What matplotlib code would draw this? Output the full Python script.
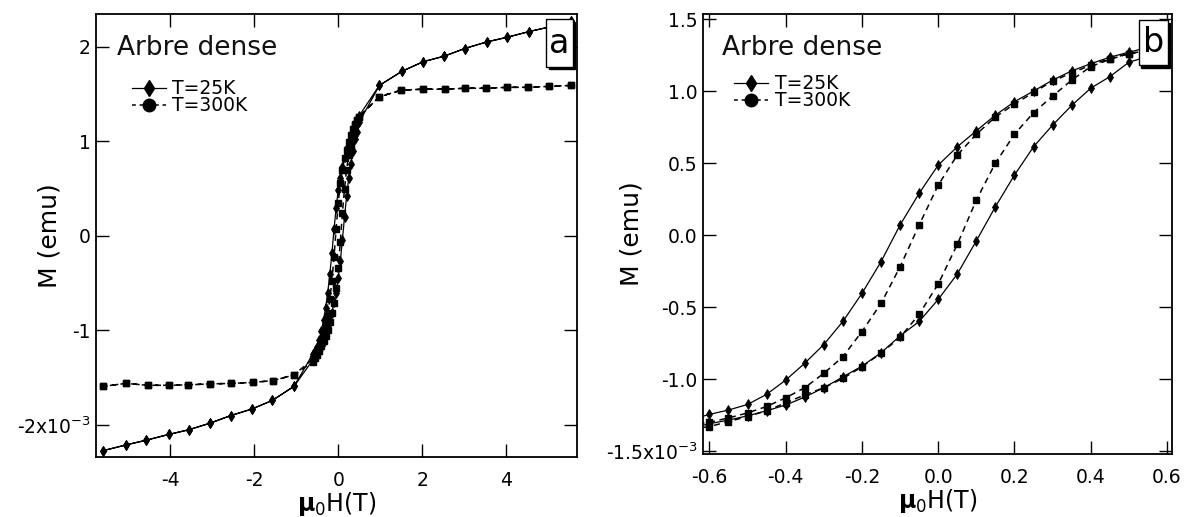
import matplotlib
matplotlib.use("Agg")
import matplotlib.pyplot as plt
from matplotlib.lines import Line2D
from matplotlib.patches import Rectangle

plt.rcParams['font.family'] = ['DejaVu Sans']
plt.rcParams['axes.unicode_minus'] = False
plt.rcParams['mathtext.default'] = 'regular'

# ---------------- data (M in units of 1e-3 emu, H in T) ----------------
# T = 25 K : high-field parts
h25_hi_pos = [0.98, 1.52, 2.02, 2.53, 3.01, 3.54, 4.03, 4.55, 5.05, 5.55]
m25_hi_pos = [1.59, 1.74, 1.84, 1.90, 1.98, 2.05, 2.10, 2.16, 2.21, 2.27]
h25_hi_neg = [-1.05, -1.57, -2.05, -2.56, -3.05, -3.56, -4.04, -4.57, -5.05, -5.59]
m25_hi_neg = [-1.59, -1.74, -1.83, -1.90, -1.98, -2.05, -2.10, -2.16, -2.21, -2.27]
# T = 25 K : low-field loop
h25_down = [0.50, 0.45, 0.40, 0.35, 0.30, 0.25, 0.20, 0.15, 0.10, 0.05, 0.00, -0.05,
            -0.10, -0.15, -0.20, -0.25, -0.30, -0.35, -0.40, -0.45, -0.50, -0.55, -0.60]
m25_down = [1.27, 1.235, 1.19, 1.14, 1.076, 1.00, 0.926, 0.833, 0.724, 0.613, 0.486, 0.29,
            0.07, -0.185, -0.405, -0.60, -0.76, -0.89, -1.007, -1.106, -1.176, -1.215, -1.245]
h25_up = [-0.60, -0.55, -0.50, -0.45, -0.40, -0.35, -0.30, -0.25, -0.20, -0.15, -0.10, -0.05,
          0.00, 0.05, 0.10, 0.15, 0.20, 0.25, 0.30, 0.35, 0.40, 0.45, 0.50]
m25_up = [-1.31, -1.285, -1.255, -1.22, -1.18, -1.125, -1.06, -0.985, -0.91, -0.817, -0.70, -0.60,
          -0.447, -0.27, -0.04, 0.197, 0.417, 0.613, 0.764, 0.90, 1.02, 1.10, 1.20]

# T = 300 K : high-field parts
h300_hi_pos = [0.98, 1.50, 2.02, 2.54, 3.01, 3.53, 4.03, 4.53, 5.02, 5.54]
m300_hi_pos = [1.47, 1.54, 1.55, 1.55, 1.56, 1.56, 1.57, 1.57, 1.58, 1.59]
h300_hi_neg = [-1.05, -1.55, -2.04, -2.55, -3.05, -3.57, -4.04, -4.54, -5.05, -5.59]
m300_hi_neg = [-1.47, -1.53, -1.55, -1.56, -1.565, -1.575, -1.58, -1.58, -1.56, -1.59]
# T = 300 K : low-field loop
h300_down = [0.50, 0.45, 0.40, 0.35, 0.30, 0.25, 0.20, 0.15, 0.10, 0.05, 0.00, -0.05,
             -0.10, -0.15, -0.20, -0.25, -0.30, -0.35, -0.40, -0.45, -0.50, -0.55, -0.60]
m300_down = [1.26, 1.225, 1.18, 1.125, 1.07, 0.99, 0.91, 0.82, 0.70, 0.556, 0.347, 0.07,
             -0.22, -0.475, -0.67, -0.845, -0.96, -1.06, -1.13, -1.19, -1.235, -1.27, -1.30]
h300_up = [-0.60, -0.55, -0.50, -0.45, -0.40, -0.35, -0.30, -0.25, -0.20, -0.15, -0.10, -0.05,
           0.00, 0.05, 0.10, 0.15, 0.20, 0.25, 0.30, 0.35, 0.40, 0.45, 0.50]
m300_up = [-1.33, -1.295, -1.26, -1.22, -1.165, -1.11, -1.06, -0.995, -0.915, -0.82, -0.71, -0.55,
           -0.34, -0.065, 0.243, 0.50, 0.70, 0.85, 0.965, 1.076, 1.17, 1.22, 1.26]

series_labels = ["T=25K", "T=300K"]

xticks_a = [-4, -2, 0, 2, 4]
xticklabels_a = ["-4", "-2", "0", "2", "4"]
yticks_a = [-2, -1, 0, 1, 2]
yticklabels_a = [r"-2x10$^{-3}$", "-1", "0", "1", "2"]

xticks_b = [-0.6, -0.4, -0.2, 0.0, 0.2, 0.4, 0.6]
xticklabels_b = ["-0.6", "-0.4", "-0.2", "0.0", "0.2", "0.4", "0.6"]
yticks_b = [-1.5, -1.0, -0.5, 0.0, 0.5, 1.0, 1.5]
yticklabels_b = [r"-1.5x10$^{-3}$", "-1.0", "-0.5", "0.0", "0.5", "1.0", "1.5"]


def full_loop(hp, mp, hd, md, hn, mn, hu, mu):
    h = list(reversed(hp)) + hd + hn + list(reversed(hn)) + hu + hp
    m = list(reversed(mp)) + md + mn + list(reversed(mn)) + mu + mp
    return h, m


H25, M25 = full_loop(h25_hi_pos, m25_hi_pos, h25_down, m25_down,
                     h25_hi_neg, m25_hi_neg, h25_up, m25_up)
H300, M300 = full_loop(h300_hi_pos, m300_hi_pos, h300_down, m300_down,
                       h300_hi_neg, m300_hi_neg, h300_up, m300_up)

fig = plt.figure(figsize=(11.88, 5.17), dpi=100)
axA = fig.add_axes([0.0811, 0.1166, 0.4047, 0.8563])
axB = fig.add_axes([0.592, 0.1219, 0.3942, 0.851])

panels = [
    (axA, (-5.76, 5.69), (-2.335, 2.345), xticks_a, xticklabels_a, yticks_a, yticklabels_a,
     "a", (0.936, 0.881, 0.055, 0.107), (0.042, 0.923), (0.074, 0.853), -0.072),
    (axB, (-0.616, 0.612), (-1.52, 1.535), xticks_b, xticklabels_b, yticks_b, yticklabels_b,
     "b", (0.930, 0.884, 0.062, 0.102), (0.039, 0.922), (0.066, 0.863), -0.127),
]

for (ax, xl, yl, xt, xtl, yt, ytl, tag, box, tpos, lpos, ylx) in panels:
    ax.plot(H25, M25, color='black', lw=0.9, marker='d', ms=5.5, mew=0.6, zorder=3)
    ax.plot(H300, M300, color='black', lw=1.1, ls=(0, (4, 3)), marker='s', ms=3.8,
            zorder=3)
    ax.set_xlim(*xl)
    ax.set_ylim(*yl)
    ax.set_xticks(xt)
    ax.set_xticklabels(xtl)
    ax.set_yticks(yt)
    ax.set_yticklabels(ytl)
    ax.tick_params(direction='in', length=9.5, width=1.0, top=True, right=True,
                   labelsize=13.5, colors='black')
    ax.tick_params(axis='x', pad=10)
    ax.tick_params(axis='y', pad=4)
    for s in ax.spines.values():
        s.set_linewidth(1.3)
    ax.set_xlabel(r"$\mathbf{\mu}_{0}$H(T)", fontsize=17)
    ax.xaxis.set_label_coords(0.5, -0.075)
    ax.set_ylabel("M (emu)", fontsize=18)
    ax.yaxis.set_label_coords(ylx, 0.5)

    ax.text(tpos[0], tpos[1], "Arbre dense", transform=ax.transAxes, fontsize=19,
            ha='left', va='center', color='#111111')

    handles = [Line2D([], [], color='black', lw=0.9, marker='d', ms=8),
               Line2D([], [], color='black', lw=1.1, ls=(0, (2.5, 2.5)), marker='o', ms=9)]
    ax.legend(handles, series_labels, loc='upper left', bbox_to_anchor=lpos,
              frameon=False, fontsize=13.5, handlelength=1.8, handletextpad=0.35,
              borderpad=0, borderaxespad=0, labelspacing=-0.1)

    # panel tag box with shadow
    bx, by, bw, bh = box
    ax.add_patch(Rectangle((bx + 0.005, by - 0.006), bw, bh, transform=ax.transAxes,
                           facecolor='black', edgecolor='black', zorder=5, clip_on=False))
    ax.add_patch(Rectangle((bx, by), bw, bh, transform=ax.transAxes,
                           facecolor='white', edgecolor='black', lw=1.0, zorder=6,
                           clip_on=False))
    ax.text(bx + bw / 2, by + bh / 2, tag, transform=ax.transAxes, fontsize=24,
            ha='center', va='center', zorder=7)

fig.savefig("out.png", dpi=100)
